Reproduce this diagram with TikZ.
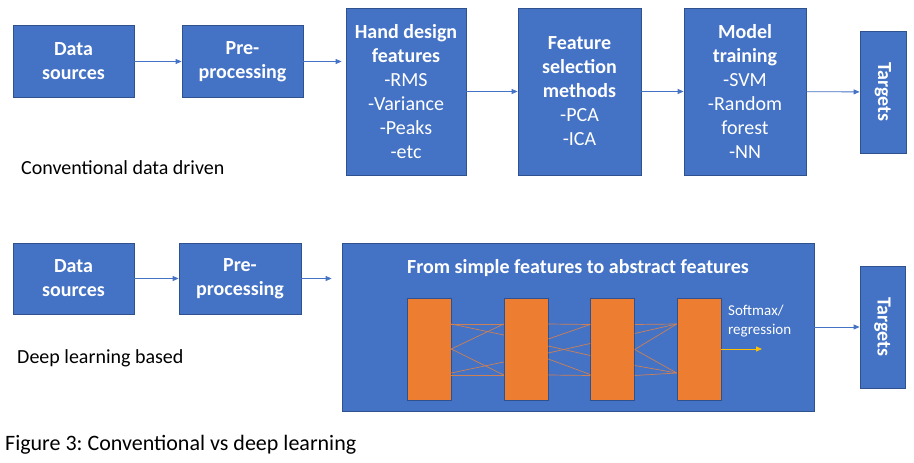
\documentclass[tikz,border=0pt]{standalone}
\usepackage{fontspec}
\setmainfont{Carlito}
\usetikzlibrary{arrows.meta}
\definecolor{blu}{HTML}{4472C4}
\definecolor{bdr}{HTML}{2F528F}
\definecolor{org}{HTML}{ED7D31}
\definecolor{lnkc}{RGB}{204,128,86}
\definecolor{ylw}{HTML}{FFC000}
\frenchspacing

\begin{document}
\begin{tikzpicture}[x=1pt,y=-1pt,
		blk/.style={draw=bdr,line width=0.8pt,fill=blu,text=white,align=center,inner sep=0pt,font=\fontsize{20}{24}\selectfont},
		lay/.style={draw=bdr,line width=0.5pt,fill=org,minimum width=44pt,minimum height=102pt,inner sep=0pt},
		arr/.style={blu,line width=0.8pt,-{Triangle[length=6pt,width=5pt]}},
		lnk/.style={lnkc,line width=0.7pt},
		lbl/.style={anchor=base west,inner sep=0pt}]
		\useasboundingbox (0,0) rectangle (914,463);
		
		% conventional data driven
		\node[blk,minimum width=121pt,minimum height=72pt] (ds1) at (73.5,61.5) {\textbf{Data}\\\textbf{sources}};
		\node[blk,minimum width=121pt,minimum height=72pt] (pp1) at (242.5,61.5) {\textbf{Pre-}\\\textbf{processing}};
		\node[blk,minimum width=120pt,minimum height=167pt] (hd) at (406,91.5) {\textbf{Hand design}\\\textbf{features}\\-RMS\\-Variance\\-Peaks\\-etc};
		\node[blk,minimum width=123pt,minimum height=167pt] (fs) at (579.5,91.5) {\textbf{Feature}\\\textbf{selection}\\\textbf{methods}\\-PCA\\-ICA};
		\node[blk,minimum width=122pt,minimum height=167pt] (mt) at (745,91.5) {\textbf{Model}\\\textbf{training}\\-SVM\\-Random\\forest\\-NN};
		\node[blk,rotate=-90,minimum width=122pt,minimum height=46pt] (tg1) at (883,92) {\textbf{Targets}};
		\draw[arr] (ds1) -- (pp1);
		\draw[arr,shorten >=4pt] (pp1.east) -- (pp1.east -| hd.west);
		\draw[arr] (hd) -- (fs);
		\draw[arr] (fs) -- (mt);
		\draw[arr] (mt) -- (tg1);
		\node[lbl,font=\fontsize{20}{24}\selectfont] (t1) at (21,174) {Conventional data driven};
		
		% deep learning
		\node[blk,minimum width=121pt,minimum height=71pt] (ds2) at (73.5,278.5) {\textbf{Data}\\\textbf{sources}};
		\node[blk,minimum width=122pt,minimum height=71pt] (pp2) at (240,278.5) {\textbf{Pre-}\\\textbf{processing}};
		\node[blk,minimum width=472pt,minimum height=168pt] (big) at (578,327) {};
		\node[anchor=base,text=white,font=\fontsize{20}{24}\selectfont\bfseries] (ttl) at (578,273) {From simple features to abstract features};
		\node[blk,rotate=-90,minimum width=122pt,minimum height=45pt] (tg2) at (882.5,327) {\textbf{Targets}};
		\draw[arr] (ds2) -- (pp2);
		\draw[arr,shorten >=10pt] (pp2.east) -- (pp2.east -| big.west);
		\draw[arr] (big) -- (tg2);
		\node[lbl,font=\fontsize{20}{24}\selectfont] (t2) at (17,363) {Deep learning based};
		
		\node[lay] (l1) at (429,349) {};
		\node[lay] (l2) at (526,349) {};
		\node[lay] (l3) at (612.5,349.5) {};
		\node[lay] (l4) at (699,349) {};
		\foreach \a/\b in {25/25,25/14,0/25,0/-26,-24/-13,-26/-26}
			\draw[lnk] ([yshift=\a pt]l1.east) -- ([yshift=\b pt]l2.west);
		\foreach \a/\b in {25/25,10/25,3/-6,-4/6,-10/-25,-26/-26}
			\draw[lnk] ([yshift=\a pt]l2.east) -- ([yshift=\b pt]l3.west);
		\foreach \a/\b in {25/25,16/25,0/25,0/-24,-16/-24,-26/-24}
			\draw[lnk] ([yshift=\a pt]l3.east) -- ([yshift=\b pt]l4.west);
		\coordinate (out) at (762,349);
		\draw[ylw,line width=0.8pt,-{Triangle[length=6pt,width=5pt]}] (l4.east) -- (out);
		\node[anchor=north west,inner sep=0pt,align=left,text=white,font=\fontsize{15}{19}\selectfont] (sm) at (728,305) {Softmax/\\regression};
		
		\node[lbl,font=\fontsize{22}{26}\selectfont] (fig) at (5,450) {Figure 3: Conventional vs deep learning};
	\end{tikzpicture}
\end{document}
